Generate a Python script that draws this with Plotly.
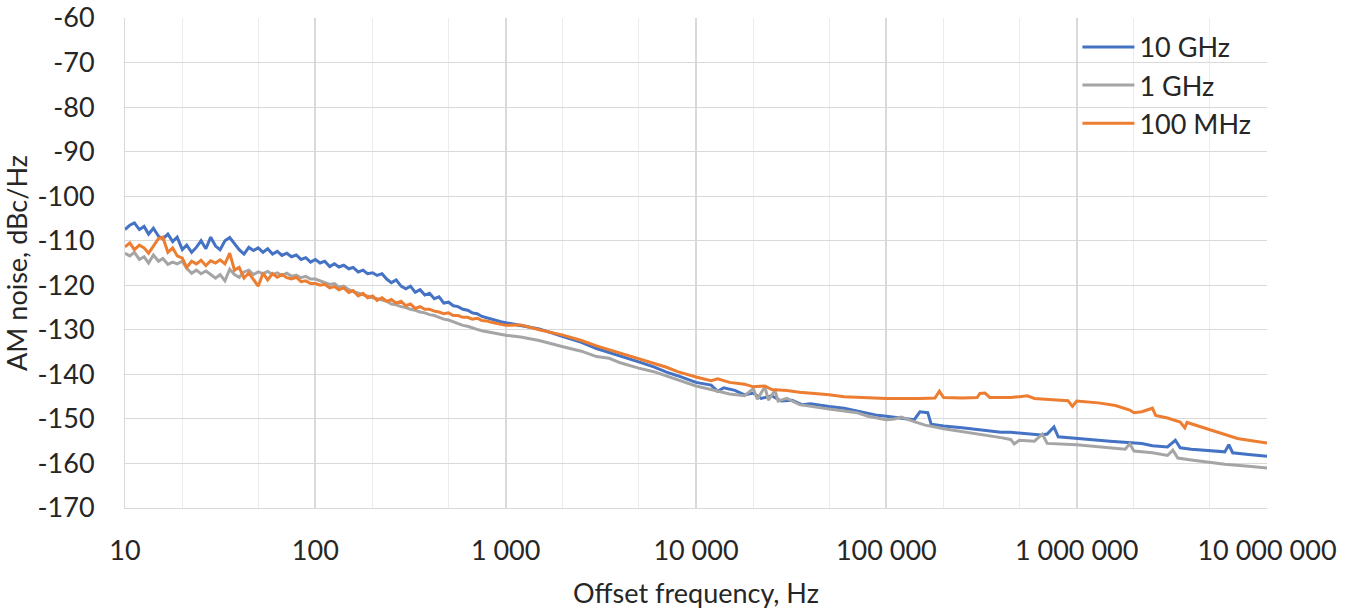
import plotly.graph_objects as go

# Low-frequency shared grid (10 Hz .. 1 kHz)
freq_low = [10, 10.6, 11.2, 11.9, 12.6, 13.3, 14.1, 15.0, 15.8, 16.8, 17.8, 18.8, 20.0, 21.1,
            22.4, 23.7, 25.1, 26.6, 28.2, 29.9, 31.6, 33.5, 35.5, 37.6, 39.8, 42.2, 44.7, 47.3,
            50.1, 53.1, 56.2, 59.6, 63.1, 66.8, 70.8, 75.0, 79.4, 84.1, 89.1, 94.4, 100,
            106, 112, 119, 126, 133, 141, 150, 158, 168, 178, 188, 200, 211, 224, 237, 251,
            266, 282, 299, 316, 335, 355, 376, 398, 422, 447, 473, 501, 531, 562, 596, 631,
            668, 708, 750, 794, 841, 891, 944, 1000]

ghz10_low = [-107.5, -106.5, -106, -107.5, -106.8, -108.5, -107.2, -109, -109.6, -108.5, -110.2,
             -109.2, -112, -111, -112.6, -111.5, -110, -111.8, -109.2, -111.2, -112, -110, -109.3,
             -110.8, -112, -113, -111.5, -112.2, -111.6, -112.6, -111.8, -113, -112.4, -113.3,
             -112.8, -113.6, -113.2, -114.2, -113.8, -114.8, -114.2, -115, -114.6, -115.8, -115.2,
             -115.9, -115.5, -116.3, -116, -117, -116.6, -117.4, -117.2, -117.8, -117.4, -118.6,
             -119.4, -118.8, -120.2, -120.8, -120.2, -121.6, -121, -122.2, -121.8, -123, -122.6,
             -124, -123.8, -124.6, -124.8, -125.4, -125.6, -126.2, -126.4, -127, -127.3, -127.6,
             -128, -128.2, -128.4]

mhz100_low = [-111.4, -110.5, -112, -111, -111.6, -112.8, -111.2, -109.5, -109.2, -112.6, -111.6,
              -113.4, -113.9, -116, -114.6, -115.2, -114.4, -115.6, -114.5, -115, -114.3, -115.2,
              -112.8, -116.6, -116, -118.4, -117.2, -118.8, -120.2, -117.3, -118.8, -117.4, -118.2,
              -117.6, -118.3, -118.6, -118.2, -119.2, -119, -119.6, -119.6, -120, -119.8, -120.6,
              -120.3, -121, -120.6, -121.6, -121.2, -122.4, -121.8, -122.8, -122.4, -123.4, -122.8,
              -123.6, -123.2, -124, -123.6, -124.6, -124.2, -125.2, -124.8, -125.4, -125.4, -125.8,
              -126, -126.4, -126.2, -126.8, -126.8, -127.2, -127.2, -127.6, -127.4, -127.9, -128,
              -128.3, -128.5, -128.8, -129]

ghz1_low = [-112.8, -113.4, -112.6, -114.2, -113.6, -115, -113.2, -114.6, -114, -115.3, -114.8,
            -115.2, -114.6, -116.2, -117.3, -116.6, -117.4, -116.8, -117.6, -118.4, -117.6, -119,
            -116.4, -117.6, -118.2, -117, -116.6, -117.6, -117, -117.4, -116.9, -117.6, -117.2,
            -117.8, -117.3, -118, -117.7, -118.3, -118, -118.6, -118.6, -119, -119.4, -119.8,
            -119.6, -120.4, -120.2, -121, -121.4, -121.8, -122.2, -122.4, -122.8, -123, -123.4,
            -123.6, -124.2, -124.4, -124.8, -125, -125.4, -125.6, -126, -126.2, -126.6, -126.8,
            -127.2, -127.6, -127.8, -128.2, -128.6, -129, -129.2, -129.6, -129.9, -130.2, -130.4,
            -130.6, -130.8, -131, -131.2]

# High-frequency parts (>1 kHz), per series
ghz10_hf = [1200, 1500, 2000, 2500, 3000, 4000, 5000, 6000, 7000, 8000, 10000, 12000, 13000, 14000,
            16000, 18000, 20000, 22000, 25000, 28000, 32000, 36000, 40000, 50000, 60000, 70000,
            80000, 90000, 100000, 120000, 140000, 150000, 165000, 172000, 200000, 250000, 300000,
            350000, 400000, 450000, 500000, 560000, 650000, 700000, 740000, 760000, 800000,
            900000, 1000000, 1300000, 1500000, 1800000, 2200000, 2500000, 3000000, 3300000,
            3500000, 4000000, 5000000, 6000000, 6300000, 6600000, 8000000, 10000000]
ghz10_hv = [-129, -129.8, -131.5, -132.8, -134.2, -135.8, -137.2, -138.3, -139.5, -140.3, -141.8,
            -142.4, -143.8, -143, -143.6, -144.6, -144.2, -145.4, -144.8, -146, -145.8, -146.8,
            -146.6, -147.2, -147.6, -148.2, -148.8, -149.2, -149.4, -149.8, -150.2, -148.4, -148.6,
            -151.2, -151.6, -152, -152.4, -152.8, -153, -153, -153.2, -153.4, -153.6, -153.4,
            -152.2, -151.8, -154, -154.2, -154.5, -154.8, -155, -155.2, -155.5, -156, -156.3,
            -154.8, -156.5, -156.8, -157.2, -157.4, -155.8, -157.6, -158, -158.4]

mhz100_hf = [1200, 1500, 2000, 2500, 3000, 4000, 5000, 6000, 7000, 8000, 10000, 12000, 13000, 15000,
             18000, 20000, 23000, 25000, 30000, 35000, 40000, 50000, 60000, 80000, 100000, 150000,
             180000, 190000, 200000, 250000, 300000, 310000, 330000, 350000, 450000, 500000,
             550000, 600000, 800000, 900000, 950000, 1000000, 1300000, 1600000, 1900000, 2000000,
             2200000, 2500000, 2600000, 3000000, 3500000, 3700000, 3800000, 4500000, 5000000,
             6000000, 7000000, 8000000, 10000000]
mhz100_hv = [-128.9, -130, -131.2, -132.4, -133.6, -135.2, -136.4, -137.4, -138.4, -139.4, -140.6,
             -141.4, -141, -141.8, -142.2, -142.8, -142.6, -143.4, -143.6, -144, -144.2, -144.6,
             -145, -145.3, -145.4, -145.4, -145.3, -143.8, -145.2, -145.3, -145.2, -144.3, -144.2,
             -145.2, -145.2, -145, -144.8, -145.4, -145.8, -145.9, -147.2, -146, -146.4, -147,
             -148, -148.6, -148.4, -147.6, -149.2, -149.8, -150.7, -152, -150.8, -151.8, -152.4,
             -153.4, -154.4, -154.8, -155.4]

ghz1_hf = [1200, 1500, 2000, 2500, 3000, 3500, 4000, 5000, 6000, 7000, 8000, 10000, 12000, 15000,
           18000, 20000, 21000, 23000, 24000, 26000, 27000, 30000, 35000, 40000, 50000, 60000,
           70000, 80000, 100000, 110000, 120000, 140000, 160000, 200000, 250000, 300000, 400000,
           450000, 470000, 500000, 600000, 660000, 700000, 1000000, 1300000, 1500000, 1800000,
           1900000, 2000000, 2500000, 3000000, 3200000, 3400000, 4000000, 5000000, 6000000,
           8000000, 10000000]
ghz1_hv = [-131.6, -132.4, -133.8, -134.8, -136, -136.4, -137.4, -138.6, -139.4, -140.4, -141.2,
           -142.6, -143.4, -144.4, -144.8, -143.2, -145.6, -142.8, -145.8, -143.6, -146, -145.4,
           -146.8, -147.2, -147.8, -148.2, -148.6, -149.4, -150.2, -150, -149.6, -150.6, -151.4,
           -152.2, -152.8, -153.4, -154.2, -154.6, -155.6, -154.8, -155, -153.4, -155.5, -155.8,
           -156.2, -156.4, -156.8, -155.6, -157.2, -157.6, -158.2, -157, -158.8, -159.2, -159.8,
           -160.2, -160.6, -161]

series_names = ["10 GHz", "1 GHz", "100 MHz"]
series_colors = ["#4472C4", "#A5A5A5", "#ED7D31"]

x_tickvals = [10, 100, 1000, 10000, 100000, 1000000, 10000000]
x_ticktext = ["10", "100", "1 000", "10 000", "100 000", "1 000 000", "10 000 000"]
y_tickvals = [-170, -160, -150, -140, -130, -120, -110, -100, -90, -80, -70, -60]
y_ticktext = ["-170", "-160", "-150", "-140", "-130", "-120", "-110", "-100", "-90", "-80", "-70", "-60"]

series_x = [freq_low + ghz10_hf, freq_low + ghz1_hf, freq_low + mhz100_hf]
series_y = [ghz10_low + ghz10_hv, ghz1_low + ghz1_hv, mhz100_low + mhz100_hv]

FONT = "Lato, Calibri, Carlito, sans-serif"
FS = 27

fig = go.Figure()
for i, name in enumerate(series_names):
    fig.add_trace(go.Scatter(x=series_x[i], y=series_y[i], mode="lines", name=name,
                             legendgroup=name,
                             line=dict(color=series_colors[i], width=3)))

fig.update_layout(
    width=1352, height=609,
    paper_bgcolor="white", plot_bgcolor="white",
    margin=dict(l=125, r=85, t=18, b=101),
    font=dict(family=FONT, size=FS, color="#262626"),
    legend=dict(x=0.834, y=0.99, xanchor="left", yanchor="top",
                bgcolor="rgba(255,255,255,0)", font=dict(size=FS, color="#262626"),
                tracegroupgap=0, itemwidth=52),
    showlegend=True,
)
fig.update_xaxes(type="log", range=[1, 7], tickvals=x_tickvals, ticktext=x_ticktext,
                 showgrid=True, gridcolor="#d9d9d9", gridwidth=1.5,
                 minor=dict(showgrid=True, gridcolor="#ececec", gridwidth=1),
                 ticks="", showline=True, linecolor="#d9d9d9", linewidth=1,
                 zeroline=False, ticklabelstandoff=19, automargin=False,
                 ticklabeloverflow="allow",
                 title=dict(text="Offset frequency, Hz", font=dict(size=FS), standoff=22))
fig.update_yaxes(range=[-170, -60], tickvals=y_tickvals, ticktext=y_ticktext,
                 showgrid=True, gridcolor="#d9d9d9", gridwidth=1,
                 ticks="", showline=True, linecolor="#d9d9d9", linewidth=1,
                 zeroline=False, ticklabelstandoff=24, automargin=False,
                 ticklabeloverflow="allow",
                 title=dict(text="AM noise, dBc/Hz", font=dict(size=FS), standoff=6))

fig.write_html("out.html", config={"displayModeBar": False},
               post_script="document.body.style.margin='0px';document.body.style.overflow='hidden';")
